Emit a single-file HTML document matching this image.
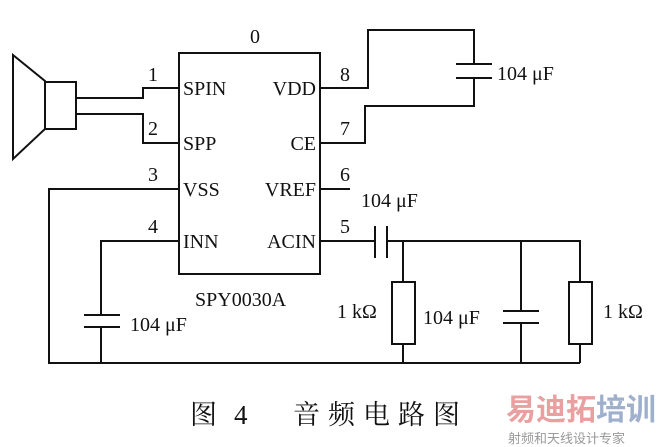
<!DOCTYPE html><html><head><style>body{margin:0;background:#fff}svg{display:block}text{font-family:"Liberation Serif",serif;fill:#111}</style></head><body>
<svg width="661" height="447" viewBox="0 0 661 447" xmlns="http://www.w3.org/2000/svg">
<g stroke="#111" stroke-width="2" fill="none">
<rect x="179" y="53" width="141" height="221"/>
<polygon points="13,55 45,81 45,129 13,159"/>
<rect x="45" y="82" width="31" height="47"/>
<polyline points="76,98 143,98 143,88 179,88"/>
<polyline points="76,114 143,114 143,143 179,143"/>
<polyline points="179,189 49,189 49,363 580,363"/>
<polyline points="179,241 101,241 101,315"/>
<line x1="101" y1="327" x2="101" y2="363"/>
<line x1="84" y1="315" x2="120" y2="315"/><line x1="84" y1="327" x2="120" y2="327"/>
<polyline points="320,88 368,88 368,30 474,30 474,64"/>
<polyline points="320,143 365,143 365,106 474,106 474,78"/>
<line x1="456" y1="64" x2="492" y2="64"/><line x1="456" y1="78" x2="492" y2="78"/>
<line x1="320" y1="189" x2="350" y2="189"/>
<line x1="320" y1="241" x2="375" y2="241"/>
<line x1="375" y1="226" x2="375" y2="258"/><line x1="387" y1="226" x2="387" y2="258"/>
<polyline points="387,241 580,241 580,282"/>
<line x1="403" y1="241" x2="403" y2="282"/><rect x="392" y="282" width="23" height="62"/><line x1="403" y1="344" x2="403" y2="363"/>
<line x1="521" y1="241" x2="521" y2="311"/><line x1="503" y1="311" x2="539" y2="311"/><line x1="503" y1="323" x2="539" y2="323"/><line x1="521" y1="323" x2="521" y2="363"/>
<rect x="569" y="282" width="23" height="62"/><line x1="580" y1="344" x2="580" y2="363"/>
</g>
<g font-size="20">
<text x="250" y="43">0</text>
<text x="148" y="81">1</text><text x="148" y="135">2</text><text x="148" y="181">3</text><text x="148" y="233">4</text>
<text x="340" y="81">8</text><text x="340" y="135">7</text><text x="340" y="181">6</text><text x="340" y="233">5</text>
<text x="183" y="95">SPIN</text><text x="183" y="150">SPP</text><text x="183" y="196">VSS</text><text x="183" y="248">INN</text>
<text x="316" y="95" text-anchor="end">VDD</text><text x="316" y="150" text-anchor="end">CE</text><text x="316" y="196" text-anchor="end">VREF</text><text x="316" y="248" text-anchor="end">ACIN</text>
<text x="195" y="306">SPY0030A</text>
<text x="497" y="80">104  μF</text>
<text x="361" y="207">104  μF</text>
<text x="130" y="331">104  μF</text>
<text x="423" y="324">104  μF</text>
<text x="337" y="318">1 kΩ</text>
<text x="603" y="318">1 kΩ</text>
</g>
<g font-size="27" style='font-family:"Noto Serif CJK SC","Noto Sans CJK SC",serif'>
<text x="190" y="424" style='font-family:"Noto Serif CJK SC","Noto Sans CJK SC",serif'>图</text>
<text x="234" y="424">4</text>
<text x="293" y="424" letter-spacing="8" style='font-family:"Noto Serif CJK SC","Noto Sans CJK SC",serif'>音频电路图</text>
</g>
<text x="506" y="420" font-size="30" font-weight="bold" style='font-family:"Noto Sans CJK SC",sans-serif;fill:#e8a0a0'>易迪拓<tspan style="fill:#9fb0cc">培训</tspan></text>
<text x="508" y="443" font-size="13" style='font-family:"Noto Sans CJK SC",sans-serif;fill:#999'>射频和天线设计专家</text>
</svg></body></html>
